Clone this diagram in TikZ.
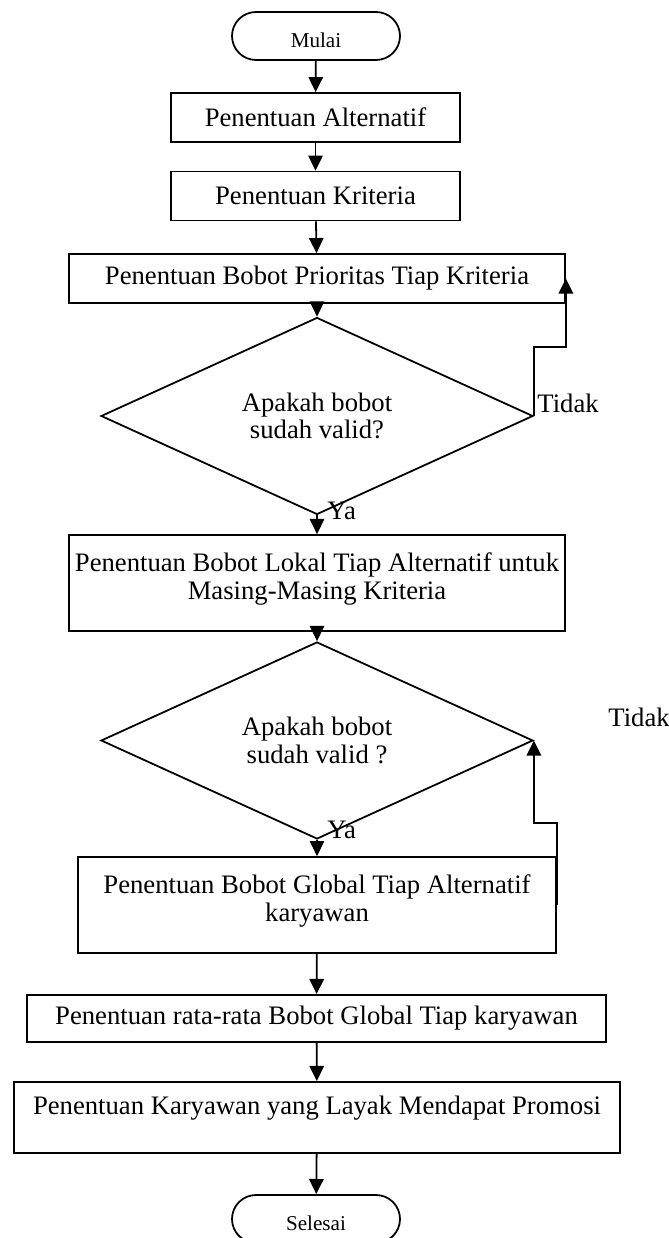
\documentclass[tikz,border=0pt]{standalone}
\usepackage{fontspec}
\setmainfont{Liberation Serif}
\usetikzlibrary{shapes.geometric,arrows.meta}
\begin{document}
\begin{tikzpicture}[x=0.45pt,y=-0.45pt,
  font=\fontsize{12}{12.5}\selectfont,
  terminal/.style={draw,line width=0.8pt,rounded corners=10.8pt,minimum width=75.6pt,minimum height=21.6pt,text height=10.5pt,font=\fontsize{9.5}{11}\selectfont},
  proses/.style={draw,line width=0.8pt,align=center,inner sep=2pt},
  keputusan/.style={draw,diamond,line width=0.8pt,align=center,inner sep=0pt,minimum width=194.4pt,minimum height=64.8pt},
  label/.style={anchor=west,inner sep=0pt},
  panah/.style={-{Triangle[length=6.8pt,width=6.5pt]},line width=0.8pt}]
  \useasboundingbox (0,0) rectangle (669,1238);
  % langkah-langkah
  \node[terminal] (mulai) at (316,36) {Mulai};
  \node[proses,minimum width=130pt,minimum height=22pt] (alternatif) at (315.5,117.5) {Penentuan Alternatif};
  \node[proses,minimum width=130pt,minimum height=22pt] (kriteria) at (315.5,196) {Penentuan Kriteria};
  \node[proses,minimum width=223.2pt,minimum height=22pt] (prioritas) at (317,278.5) {Penentuan Bobot Prioritas Tiap Kriteria};
  \node[keputusan] (cek1) at (317,416) {Apakah bobot\\sudah valid?};
  \node[proses,minimum width=223.2pt,minimum height=43.2pt,text depth=6pt] (lokal) at (317,583) {Penentuan Bobot Lokal Tiap Alternatif untuk\\Masing-Masing Kriteria};
  \node[keputusan] (cek2) at (317,740.5) {Apakah bobot\\sudah valid ?};
  \node[proses,minimum width=215pt,minimum height=43.2pt,text depth=6pt] (global) at (317,905) {Penentuan Bobot Global Tiap Alternatif\\karyawan};
  \node[proses,minimum width=260.5pt,minimum height=21.2pt] (rata) at (316.5,1018.5) {Penentuan rata-rata Bobot Global Tiap karyawan};
  \node[proses,minimum width=272.7pt,minimum height=32pt,text depth=11pt] (promosi) at (317,1117.5) {Penentuan Karyawan yang Layak Mendapat Promosi};
  \node[terminal] (selesai) at (316,1219) {Selesai};
  % alur utama
  \draw[panah] (mulai) -- (alternatif);
  \draw[panah] (alternatif) -- (kriteria);
  \draw[panah] (kriteria) -- (prioritas);
  \draw[panah] (prioritas) -- (cek1);
  \draw[panah] (cek1) -- (lokal);
  \draw[panah] (lokal) -- (cek2);
  \draw[panah] (cek2) -- (global);
  \draw[panah] (global) -- (rata);
  \draw[panah] (rata) -- (promosi);
  \draw[panah] (promosi) -- (selesai);
  % alur kembali
  \draw[panah] (cek1.east) -- ++(0,-69) -| (prioritas.east);
  \draw[panah] (global.east) -- ++(0,-82) -| (cek2.east);
  \node[label] at (537,403) {Tidak};
  \node[label] at (608,717) {Tidak};
  \node[label] at (327,511) {Ya};
  \node[label] at (327,830) {Ya};
\end{tikzpicture}
\end{document}
